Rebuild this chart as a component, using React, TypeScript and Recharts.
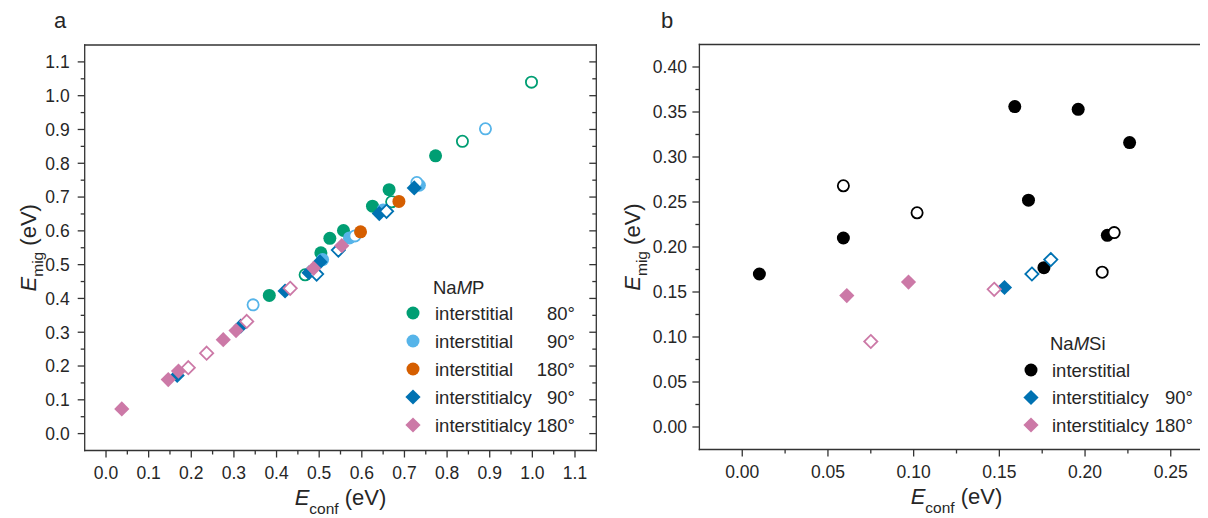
import React from "react";
import { ScatterChart, Scatter, XAxis, YAxis, Label, Legend } from "recharts";

type Pt = { x: number; y: number };
type Kind = "circle" | "diamond";

// panel a: NaMP  (E_conf, E_mig in eV)
const namp80: Pt[] = [
  { x: 0.383, y: 0.409 }, { x: 0.504, y: 0.535 }, { x: 0.525, y: 0.578 }, { x: 0.557, y: 0.601 },
  { x: 0.625, y: 0.673 }, { x: 0.664, y: 0.722 }, { x: 0.773, y: 0.822 },
];
const namp80Open: Pt[] = [
  { x: 0.467, y: 0.47 }, { x: 0.67, y: 0.686 }, { x: 0.836, y: 0.865 }, { x: 0.998, y: 1.04 },
];
const namp90: Pt[] = [
  { x: 0.508, y: 0.515 }, { x: 0.571, y: 0.579 }, { x: 0.65, y: 0.662 }, { x: 0.735, y: 0.735 },
];
const namp90Open: Pt[] = [
  { x: 0.345, y: 0.381 }, { x: 0.584, y: 0.585 }, { x: 0.729, y: 0.743 }, { x: 0.89, y: 0.902 },
];
const namp180: Pt[] = [{ x: 0.597, y: 0.597 }, { x: 0.687, y: 0.687 }];
const nampCy90: Pt[] = [
  { x: 0.167, y: 0.172 }, { x: 0.316, y: 0.318 }, { x: 0.42, y: 0.422 }, { x: 0.476, y: 0.476 },
  { x: 0.502, y: 0.508 }, { x: 0.641, y: 0.651 }, { x: 0.723, y: 0.727 },
];
const nampCy90Open: Pt[] = [{ x: 0.494, y: 0.472 }, { x: 0.545, y: 0.543 }, { x: 0.658, y: 0.658 }];
const nampCy180: Pt[] = [
  { x: 0.037, y: 0.073 }, { x: 0.146, y: 0.16 }, { x: 0.17, y: 0.185 }, { x: 0.275, y: 0.278 },
  { x: 0.305, y: 0.305 }, { x: 0.487, y: 0.489 }, { x: 0.553, y: 0.556 },
];
const nampCy180Open: Pt[] = [
  { x: 0.193, y: 0.195 }, { x: 0.236, y: 0.238 }, { x: 0.33, y: 0.332 }, { x: 0.432, y: 0.43 },
];

// panel b: NaMSi
const namsiInt: Pt[] = [
  { x: 0.01, y: 0.17 }, { x: 0.059, y: 0.21 }, { x: 0.159, y: 0.356 }, { x: 0.196, y: 0.353 },
  { x: 0.226, y: 0.316 }, { x: 0.167, y: 0.252 }, { x: 0.213, y: 0.213 }, { x: 0.176, y: 0.177 },
];
const namsiIntOpen: Pt[] = [
  { x: 0.059, y: 0.268 }, { x: 0.102, y: 0.238 }, { x: 0.217, y: 0.216 }, { x: 0.21, y: 0.172 },
];
const namsiCy90: Pt[] = [{ x: 0.153, y: 0.155 }];
const namsiCy90Open: Pt[] = [{ x: 0.169, y: 0.17 }, { x: 0.18, y: 0.186 }];
const namsiCy180: Pt[] = [{ x: 0.061, y: 0.146 }, { x: 0.097, y: 0.161 }];
const namsiCy180Open: Pt[] = [{ x: 0.147, y: 0.153 }, { x: 0.075, y: 0.095 }];

const aTicks = [
  0, 0.05, 0.1, 0.15, 0.2, 0.25, 0.3, 0.35, 0.4, 0.45, 0.5, 0.55, 0.6, 0.65, 0.7, 0.75, 0.8, 0.85,
  0.9, 0.95, 1.0, 1.05, 1.1,
];
const bXTicks = [0, 0.025, 0.05, 0.075, 0.1, 0.125, 0.15, 0.175, 0.2, 0.225, 0.25];
const bYTicks = [
  0, 0.025, 0.05, 0.075, 0.1, 0.125, 0.15, 0.175, 0.2, 0.225, 0.25, 0.275, 0.3, 0.325, 0.35, 0.375, 0.4,
];

const GREEN = "#009E73";
const SKY = "#56B4E9";
const ORANGE = "#D55E00";
const BLUE = "#0072B2";
const PINK = "#CC79A7";
const BLACK = "#000000";

const FONT = "'Liberation Sans', Arial, Helvetica, sans-serif";
const INK = "#262626";
const AXIS = "#333333";
const axisLine = { stroke: AXIS, strokeWidth: 1.3, strokeLinecap: "square" as const };

function drawMarker(kind: Kind, color: string, open: boolean, cx: number, cy: number) {
  if (kind === "circle") {
    return open ? (
      <circle cx={cx} cy={cy} r={5.6} fill="#fff" stroke={color} strokeWidth={1.8} />
    ) : (
      <circle cx={cx} cy={cy} r={6.5} fill={color} />
    );
  }
  const d = open ? 6.6 : 7.6;
  const pts = `${cx},${cy - d} ${cx + d},${cy} ${cx},${cy + d} ${cx - d},${cy}`;
  return open ? (
    <polygon points={pts} fill="#fff" stroke={color} strokeWidth={1.8} />
  ) : (
    <polygon points={pts} fill={color} />
  );
}

type Side = "bottom" | "top" | "left" | "right";
const makeTick = (side: Side, step: number, digits: number, gap: number) => (props: any) => {
  const { x, y, payload } = props;
  const v = Number(payload.value);
  const major = Math.abs(v / step - Math.round(v / step)) < 1e-6;
  const len = major ? 7 : 4;
  const label = major && gap > 0 ? v.toFixed(digits) : null;
  const ls = { stroke: AXIS, strokeWidth: 1.3 };
  const ts = { fontSize: 17.5, fill: INK, fontFamily: FONT };
  if (side === "bottom" || side === "top") {
    return (
      <g>
        <line x1={x} y1={y} x2={x} y2={y + len} {...ls} />
        {label && (
          <text x={x} y={y + gap} dy="0.36em" textAnchor="middle" {...ts}>
            {label}
          </text>
        )}
      </g>
    );
  }
  return (
    <g>
      <line x1={x - len} y1={y} x2={x} y2={y} {...ls} />
      {label && (
        <text x={x - gap} y={y} dy="0.36em" textAnchor="end" {...ts}>
          {label}
        </text>
      )}
    </g>
  );
};

const XTitle = (props: any) => {
  const vb = props.viewBox || { x: 0, y: 0, width: 0, height: 0 };
  const cx = vb.x + vb.width / 2;
  return (
    <text x={cx} y={vb.y + 54.5} textAnchor="middle" fontSize={22} fill={INK} fontFamily={FONT}>
      <tspan fontStyle="italic">E</tspan>
      <tspan fontSize={15.5} dy={9}>conf</tspan>
      <tspan dy={-9}> (eV)</tspan>
    </text>
  );
};

const YTitle = (bx: number) => (props: any) => {
  const vb = props.viewBox || { x: 0, y: 0, width: 0, height: 0 };
  const cy = vb.y + vb.height / 2;
  return (
    <text x={bx} y={cy} transform={`rotate(-90 ${bx} ${cy})`} textAnchor="middle" fontSize={22} fill={INK} fontFamily={FONT}>
      <tspan fontStyle="italic">E</tspan>
      <tspan fontSize={15.5} dy={7}>mig</tspan>
      <tspan dy={-7}> (eV)</tspan>
    </text>
  );
};

type Series = { data: Pt[]; color: string; kind: Kind; open: boolean };
type Entry = { label: string; angle: string; color: string; kind: Kind };

const aSeries: Series[] = [
  { data: namp80, color: GREEN, kind: "circle", open: false },
  { data: namp80Open, color: GREEN, kind: "circle", open: true },
  { data: namp90, color: SKY, kind: "circle", open: false },
  { data: namp90Open, color: SKY, kind: "circle", open: true },
  { data: namp180, color: ORANGE, kind: "circle", open: false },
  { data: nampCy90, color: BLUE, kind: "diamond", open: false },
  { data: nampCy90Open, color: BLUE, kind: "diamond", open: true },
  { data: nampCy180, color: PINK, kind: "diamond", open: false },
  { data: nampCy180Open, color: PINK, kind: "diamond", open: true },
];
const bSeries: Series[] = [
  { data: namsiInt, color: BLACK, kind: "circle", open: false },
  { data: namsiIntOpen, color: BLACK, kind: "circle", open: true },
  { data: namsiCy90, color: BLUE, kind: "diamond", open: false },
  { data: namsiCy90Open, color: BLUE, kind: "diamond", open: true },
  { data: namsiCy180, color: PINK, kind: "diamond", open: false },
  { data: namsiCy180Open, color: PINK, kind: "diamond", open: true },
];

const aLegend: Entry[] = [
  { label: "interstitial", angle: "80°", color: GREEN, kind: "circle" },
  { label: "interstitial", angle: "90°", color: SKY, kind: "circle" },
  { label: "interstitial", angle: "180°", color: ORANGE, kind: "circle" },
  { label: "interstitialcy", angle: "90°", color: BLUE, kind: "diamond" },
  { label: "interstitialcy", angle: "180°", color: PINK, kind: "diamond" },
];
const bLegend: Entry[] = [
  { label: "interstitial", angle: "", color: BLACK, kind: "circle" },
  { label: "interstitialcy", angle: "90°", color: BLUE, kind: "diamond" },
  { label: "interstitialcy", angle: "180°", color: PINK, kind: "diamond" },
];

const LegendBox = (p: {
  w: number; h: number; tail: string; entries: Entry[];
  mx: number; tx: number; rx: number; ty: number; y0: number; dy: number;
}) => (
  <svg width={p.w} height={p.h} style={{ display: "block", overflow: "visible" }}>
    <text x={p.tx - 2} y={p.ty} dy="0.36em" fontSize={18.5} fill={INK} fontFamily={FONT}>
      Na<tspan fontStyle="italic">M</tspan>
      {p.tail}
    </text>
    {p.entries.map((e, i) => {
      const cy = p.y0 + i * p.dy;
      return (
        <g key={i}>
          {drawMarker(e.kind, e.color, false, p.mx, cy)}
          <text x={p.tx} y={cy} dy="0.36em" fontSize={18.5} fill={INK} fontFamily={FONT}>
            {e.label}
          </text>
          {e.angle && (
            <text x={p.rx} y={cy} dy="0.36em" textAnchor="end" fontSize={18.5} fill={INK} fontFamily={FONT}>
              {e.angle}
            </text>
          )}
        </g>
      );
    })}
  </svg>
);

function renderSeries(list: Series[]) {
  return list.map((s, i) => (
    <Scatter
      key={i}
      xAxisId="x"
      yAxisId="y"
      data={s.data}
      isAnimationActive={false}
      shape={(p: any) => drawMarker(s.kind, s.color, s.open, p.cx, p.cy)}
    />
  ));
}

const PanelA = () => (
  <ScatterChart width={620} height={510} margin={{ top: 36, right: 30.7, bottom: 7.5, left: 16.7 }}>
    <XAxis xAxisId="x" type="number" dataKey="x" domain={[-0.05, 1.15]} allowDataOverflow ticks={aTicks}
      interval={0} height={60} tickSize={0} tickMargin={0} tickLine={false} axisLine={axisLine}
      tick={makeTick("bottom", 0.1, 1, 22)}>
      <Label content={XTitle} />
    </XAxis>
    <XAxis xAxisId="top" orientation="top" type="number" domain={[-0.05, 1.15]} allowDataOverflow ticks={aTicks}
      interval={0} height={1} tickSize={0} tickMargin={0} tickLine={false} axisLine={axisLine}
      tick={makeTick("top", 0.1, 1, 0)} />
    <YAxis yAxisId="y" type="number" dataKey="y" domain={[-0.05, 1.15]} allowDataOverflow ticks={aTicks}
      interval={0} width={60} tickSize={0} tickMargin={0} tickLine={false} axisLine={axisLine}
      tick={makeTick("left", 0.1, 1, 15)}>
      <Label content={YTitle(28)} />
    </YAxis>
    <YAxis yAxisId="right" orientation="right" type="number" domain={[-0.05, 1.15]} allowDataOverflow ticks={aTicks}
      interval={0} width={1} tickSize={0} tickMargin={0} tickLine={false} axisLine={axisLine}
      tick={makeTick("right", 0.1, 1, 0)} />
    {renderSeries(aSeries)}
    <Legend layout="vertical" align="center" verticalAlign="middle"
      wrapperStyle={{ left: 390, top: 260, width: 195, height: 180 }}
      content={() => (
        <LegendBox w={195} h={180} tail="P" entries={aLegend} mx={15} tx={37} rx={177} ty={19} y0={45} dy={28} />
      )} />
  </ScatterChart>
);

const PanelB = () => (
  <ScatterChart width={610} height={510} margin={{ top: 35.5, right: 3.4, bottom: 8.5, left: 31.4 }}>
    <XAxis xAxisId="x" type="number" dataKey="x" domain={[-0.025, 0.275]} allowDataOverflow ticks={bXTicks}
      interval={0} height={60} tickSize={0} tickMargin={0} tickLine={false} axisLine={axisLine}
      tick={makeTick("bottom", 0.05, 2, 22)}>
      <Label content={XTitle} />
    </XAxis>
    <XAxis xAxisId="top" orientation="top" type="number" domain={[-0.025, 0.275]} allowDataOverflow ticks={bXTicks}
      interval={0} height={1} tickSize={0} tickMargin={0} tickLine={false} axisLine={axisLine}
      tick={makeTick("top", 0.05, 2, 0)} />
    <YAxis yAxisId="y" type="number" dataKey="y" domain={[-0.025, 0.425]} allowDataOverflow ticks={bYTicks}
      interval={0} width={60} tickSize={0} tickMargin={0} tickLine={false} axisLine={axisLine}
      tick={makeTick("left", 0.05, 2, 12.5)}>
      <Label content={YTitle(32)} />
    </YAxis>
    <YAxis yAxisId="right" orientation="right" type="number" domain={[-0.025, 0.425]} allowDataOverflow ticks={bYTicks}
      interval={0} width={1} tickSize={0} tickMargin={0} tickLine={false} axisLine={axisLine}
      tick={makeTick("right", 0.05, 2, 0)} />
    {renderSeries(bSeries)}
    <Legend layout="vertical" align="center" verticalAlign="middle"
      wrapperStyle={{ left: 405, top: 315, width: 195, height: 125 }}
      content={() => (
        <LegendBox w={195} h={125} tail="Si" entries={bLegend} mx={18} tx={39} rx={180} ty={20.3} y0={47} dy={27.5} />
      )} />
  </ScatterChart>
);

const letter = (left: number): React.CSSProperties => ({
  position: "absolute", left, top: 2, fontSize: 22, lineHeight: "22px", color: INK, fontFamily: FONT,
});

export default function App() {
  return (
    <div style={{ position: "relative", width: 1200, height: 510, overflow: "hidden", background: "#fff", fontFamily: FONT }}>
      <div style={{ position: "absolute", left: 0, top: 0 }}>
        <PanelA />
      </div>
      <div style={{ position: "absolute", left: 600, top: 0 }}>
        <PanelB />
      </div>
      <div style={letter(46)}>a</div>
      <div style={letter(653)}>b</div>
    </div>
  );
}
